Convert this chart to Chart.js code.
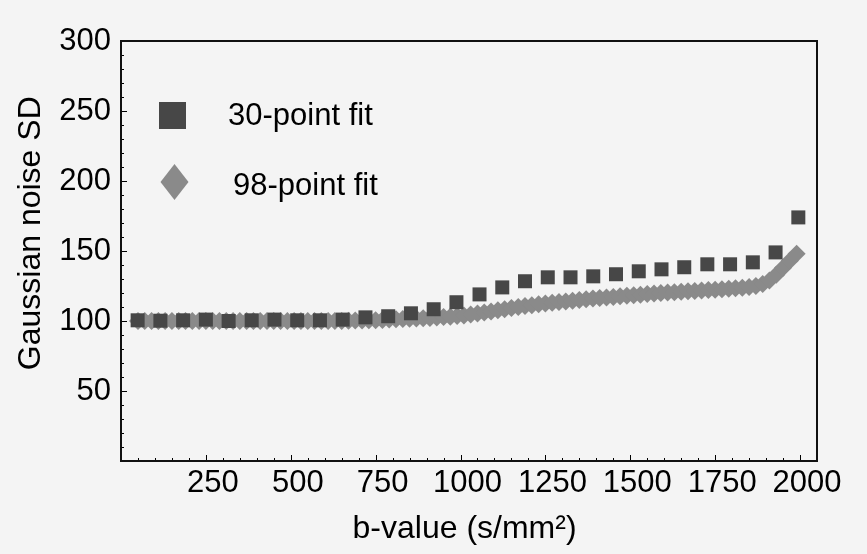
<!DOCTYPE html>
<html>
<head>
<meta charset="utf-8">
<script src="https://cdn.jsdelivr.net/npm/chart.js@4/dist/chart.umd.min.js"></script>
<style>
  body { margin: 0; background: #f4f4f4; }
  #wrap { width: 867px; height: 554px; }
</style>
</head>
<body>
<div id="wrap"><canvas id="noise"></canvas></div>
<script>
// 30-point fit (squares)
const b30 = [49, 116, 183, 250, 317, 385, 452, 519, 586, 653,
  720, 787, 854, 921, 988, 1056, 1123, 1190, 1257, 1324,
  1391, 1458, 1525, 1592, 1659, 1727, 1794, 1861, 1928, 1995];
const sd30 = [100.5, 100.2, 100.5, 101, 100, 100.5, 101, 100.5, 100.5, 101,
  102.6, 103.4, 105.5, 108.4, 113.4, 119, 124, 128.4, 131.2, 131.2,
  131.9, 133.4, 135.5, 136.9, 138.4, 140.5, 140.5, 141.9, 149, 174];

// 98-point fit (diamonds)
const b98 = [50, 70, 90, 110, 130, 150, 170, 190, 210, 230,
  250, 270, 290, 310, 330, 350, 370, 390, 410, 430,
  450, 470, 490, 510, 530, 550, 570, 590, 610, 630,
  650, 670, 690, 710, 730, 750, 770, 790, 810, 830,
  850, 870, 890, 910, 930, 950, 970, 990, 1010, 1030,
  1050, 1070, 1090, 1110, 1130, 1150, 1170, 1190, 1210, 1230,
  1250, 1270, 1290, 1310, 1330, 1350, 1370, 1390, 1410, 1430,
  1450, 1470, 1490, 1510, 1530, 1550, 1570, 1590, 1610, 1630,
  1650, 1670, 1690, 1710, 1730, 1750, 1770, 1790, 1810, 1830,
  1850, 1870, 1890, 1910, 1930, 1950, 1970, 1990];
const sd98 = [100, 100, 100, 100, 100, 100, 100, 100, 100, 100,
  100, 100, 100, 100, 100, 100, 100, 100, 100, 100,
  100, 100, 100, 100, 100, 100, 100, 100, 100, 100,
  100, 100.2, 100.3, 100.4, 100.5, 100.6, 100.8, 101, 101.2, 101.4,
  101.6, 101.8, 102, 102.2, 102.5, 102.8, 103.1, 103.5, 104, 104.6,
  105.3, 106, 106.8, 107.6, 108.4, 109.2, 110, 110.7, 111.3, 111.9,
  112.5, 113, 113.5, 114, 114.5, 115, 115.5, 116, 116.4, 116.8,
  117.2, 117.6, 118, 118.4, 118.8, 119.2, 119.6, 120, 120.3, 120.6,
  120.9, 121.2, 121.5, 121.8, 122.1, 122.4, 122.7, 123, 123.4, 123.8,
  124.3, 125, 126.5, 129, 133, 138, 143, 148];

const seriesNames = ['30-point fit', '98-point fit'];
const xTickLabels = ['250', '500', '750', '1000', '1250', '1500', '1750', '2000'];
const yTickLabels = ['50', '100', '150', '200', '250', '300'];

const FONT = "'Liberation Sans', Arial, sans-serif";
const SQ_COLOR = '#474747';
const DI_COLOR = '#8a8a8a';

// frame + inward ticks, like the original plot
const frameTicks = {
  id: 'frameTicks',
  afterDatasetsDraw(chart) {
    const { ctx, chartArea: a, scales: { x, y } } = chart;
    ctx.save();
    ctx.strokeStyle = '#000';
    ctx.lineWidth = 1;
    ctx.beginPath();
    for (let v = 0; v <= x.max; v += 50) {
      const px = Math.round(x.getPixelForValue(v)) + 0.5;
      const len = v % 250 === 0 ? 6 : 3;
      ctx.moveTo(px, a.bottom);
      ctx.lineTo(px, a.bottom - len);
    }
    for (let v = 0; v <= y.max; v += 10) {
      const py = Math.round(y.getPixelForValue(v)) + 0.5;
      const len = v % 50 === 0 ? 6 : 3;
      ctx.moveTo(a.left, py);
      ctx.lineTo(a.left + len, py);
    }
    ctx.stroke();
    ctx.lineWidth = 2;
    ctx.strokeStyle = '#111';
    ctx.strokeRect(a.left, a.top, a.right - a.left, a.bottom - a.top);
    ctx.restore();
  }
};

// legend inside the plot, top left
const insideLegend = {
  id: 'insideLegend',
  afterDraw(chart) {
    const ctx = chart.ctx;
    ctx.save();
    ctx.fillStyle = SQ_COLOR;
    ctx.fillRect(159, 102, 27, 27);
    ctx.fillStyle = DI_COLOR;
    ctx.beginPath();
    ctx.moveTo(174.5, 164);
    ctx.lineTo(188.5, 182);
    ctx.lineTo(174.5, 200);
    ctx.lineTo(160.5, 182);
    ctx.closePath();
    ctx.fill();
    ctx.fillStyle = '#000';
    ctx.font = '31px ' + FONT;
    ctx.textBaseline = 'alphabetic';
    ctx.fillText(chart.data.datasets[0].label, 228, 125);
    ctx.fillText(chart.data.datasets[1].label, 233, 195);
    ctx.restore();
  }
};

const ctx = document.getElementById('noise');

const chart = new Chart(ctx, {
  type: 'scatter',
  data: {
    datasets: [
      {
        label: seriesNames[0],
        data: b30.map((b, i) => ({ x: b, y: sd30[i] })),
        pointStyle: 'rect',
        pointRadius: 9.9,
        backgroundColor: SQ_COLOR,
        borderWidth: 0,
        order: 0
      },
      {
        label: seriesNames[1],
        data: b98.map((b, i) => ({ x: b, y: sd98[i] })),
        pointStyle: 'rectRot',
        pointRadius: 9,
        backgroundColor: DI_COLOR,
        borderWidth: 0,
        order: 1
      }
    ]
  },
  options: {
    responsive: true,
    maintainAspectRatio: false,
    animation: false,
    layout: { padding: { top: 41, right: 50, left: 0, bottom: 0 } },
    plugins: {
      legend: { display: false },
      tooltip: { enabled: false }
    },
    scales: {
      x: {
        type: 'linear',
        min: 0,
        max: 2050,
        afterBuildTicks: s => { s.ticks = xTickLabels.map(t => ({ value: Number(t) })); },
        afterFit: s => { s.height = 93; },
        grid: { display: false, drawTicks: false },
        border: { display: false },
        ticks: {
          autoSkip: false,
          maxRotation: 0,
          padding: 4,
          labelOffset: 7,
          color: '#000',
          font: { family: FONT, size: 31 },
          callback: v => String(v)
        },
        title: {
          display: true,
          text: 'b-value (s/mm²)\u00a0',
          color: '#000',
          font: { family: FONT, size: 32 },
          padding: { top: 0, bottom: 6 }
        }
      },
      y: {
        min: 0,
        max: 300,
        afterBuildTicks: s => { s.ticks = yTickLabels.map(t => ({ value: Number(t) })); },
        afterFit: s => { s.width = 121; },
        grid: { display: false, drawTicks: false },
        border: { display: false },
        ticks: {
          autoSkip: false,
          padding: 10,
          color: '#000',
          font: { family: FONT, size: 31 },
          callback: v => String(v)
        },
        title: {
          display: true,
          // leading spaces push the label up the axis, as in the original
          text: '\u00a0\u00a0\u00a0\u00a0Gaussian noise SD',
          color: '#000',
          font: { family: FONT, size: 32 },
          padding: { top: 12, bottom: 0 }
        }
      }
    }
  },
  plugins: [frameTicks, insideLegend]
});
</script>
</body>
</html>
